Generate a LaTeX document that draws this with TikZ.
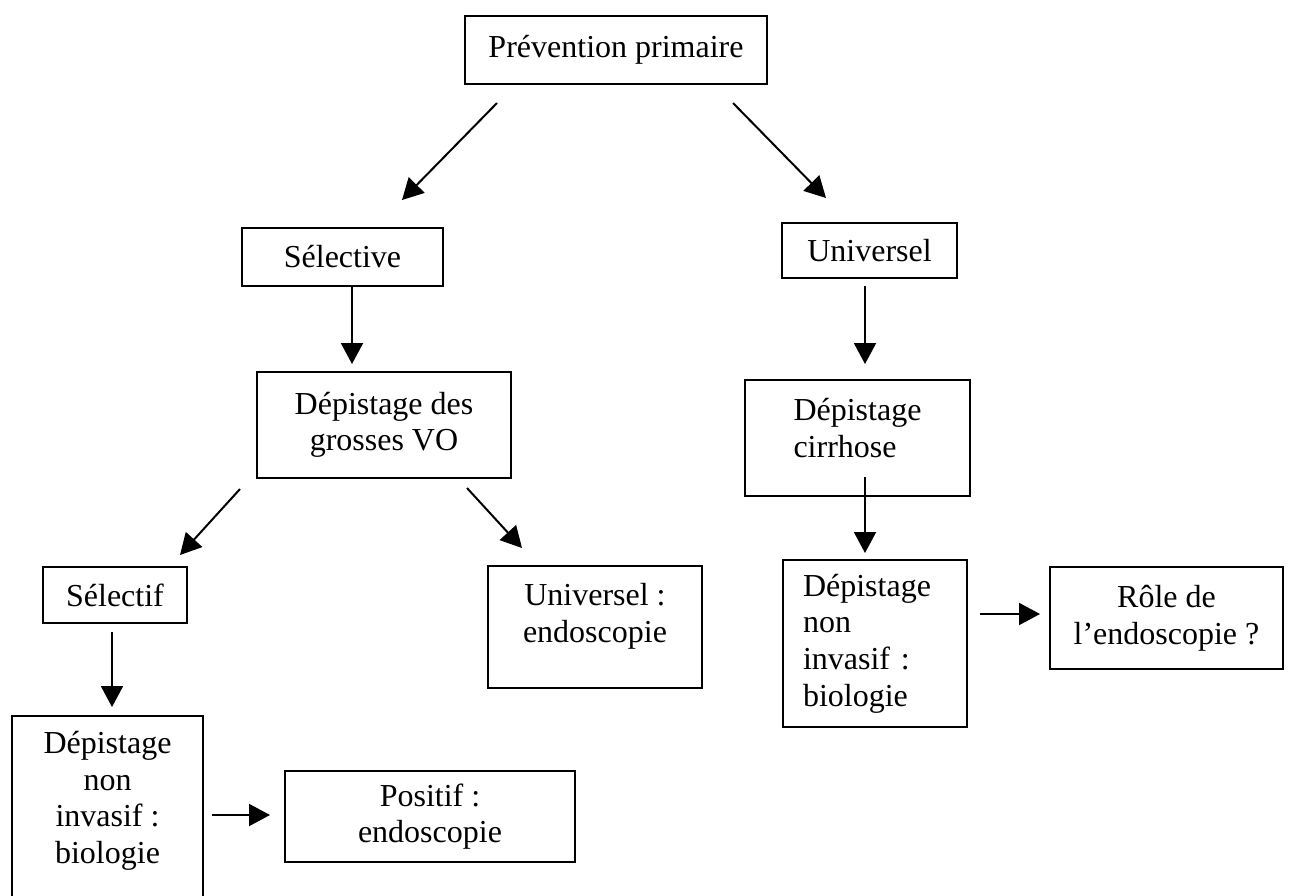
\documentclass[tikz,border=0pt]{standalone}
\usepackage{fontspec}
\setmainfont{Liberation Serif}
\usetikzlibrary{arrows.meta}
\begin{document}
\begin{tikzpicture}[x=0.5pt,y=-0.5pt,
  box/.style={draw,line width=1pt,inner sep=0pt,align=center,font=\fontsize{16}{18.3}\selectfont},
  arr/.style={line width=1pt,-{Triangle[length=10.5pt,width=11pt]}}]
\fill[white] (0,0) rectangle (1289,895);
\clip (0,0) rectangle (1289,895);
% boxes
\node[box,minimum width=151pt,minimum height=34pt] (prev) at (616,50) {Prévention primaire};
\node[box,minimum width=100.5pt,minimum height=29pt] (sel) at (342.5,257) {Sélective};
\node[box,minimum width=87.5pt,minimum height=27.5pt] (univ) at (869.5,250.5) {Universel};
\node[box,minimum width=127pt,minimum height=53pt] (vo) at (384,425) {Dépistage des\\grosses VO};
\node[box,align=left,minimum width=112.5pt,minimum height=58pt,text depth=10pt] (cirr) at (857.5,438) {Dépistage\\cirrhose};
\node[box,minimum width=107pt,minimum height=61pt,text depth=14pt] (ue) at (595,627) {Universel :\\endoscopie};
\node[box,align=left,text width=72pt,minimum width=92pt,minimum height=83.5pt] (rbio) at (875,643.5) {Dépistage\\non\\invasif :\\biologie};
\node[box,minimum width=116.5pt,minimum height=51pt] (role) at (1166.5,618) {Rôle de\\l’endoscopie ?};
\node[box,minimum width=72pt,minimum height=28pt] (slf) at (115,595) {Sélectif};
\node[box,minimum width=95.5pt,minimum height=99.5pt,text depth=18pt] (lbio) at (107.5,815.5) {Dépistage\\non\\invasif :\\biologie};
\node[box,minimum width=145pt,minimum height=45.5pt] (pos) at (430,816.5) {Positif :\\endoscopie};
% connector end points
\coordinate (a1s) at (497,103); \coordinate (a1e) at (402,200);
\coordinate (a2s) at (733,103); \coordinate (a2e) at (826,198);
\coordinate (a3e) at (352,364);
\coordinate (a4s) at (865,286); \coordinate (a4e) at (865,364);
\coordinate (a5s) at (240,489); \coordinate (a5e) at (180,555);
\coordinate (a6s) at (467,488); \coordinate (a6e) at (522,548);
\coordinate (a7s) at (865,477); \coordinate (a7e) at (865,553);
\coordinate (a8s) at (112,632); \coordinate (a8e) at (112,707);
\coordinate (a9s) at (212,815); \coordinate (a9e) at (270,815);
\coordinate (a10s) at (980,614); \coordinate (a10e) at (1040,614);
% connectors
\draw[arr] (a1s) -- (a1e);
\draw[arr] (a2s) -- (a2e);
\draw[arr] (sel.south -| a3e) -- (a3e);
\draw[arr] (a4s) -- (a4e);
\draw[arr] (a5s) -- (a5e);
\draw[arr] (a6s) -- (a6e);
\draw[arr] (a7s) -- (a7e);
\draw[arr] (a8s) -- (a8e);
\draw[arr] (a9s) -- (a9e);
\draw[arr] (a10s) -- (a10e);
\end{tikzpicture}
\end{document}
